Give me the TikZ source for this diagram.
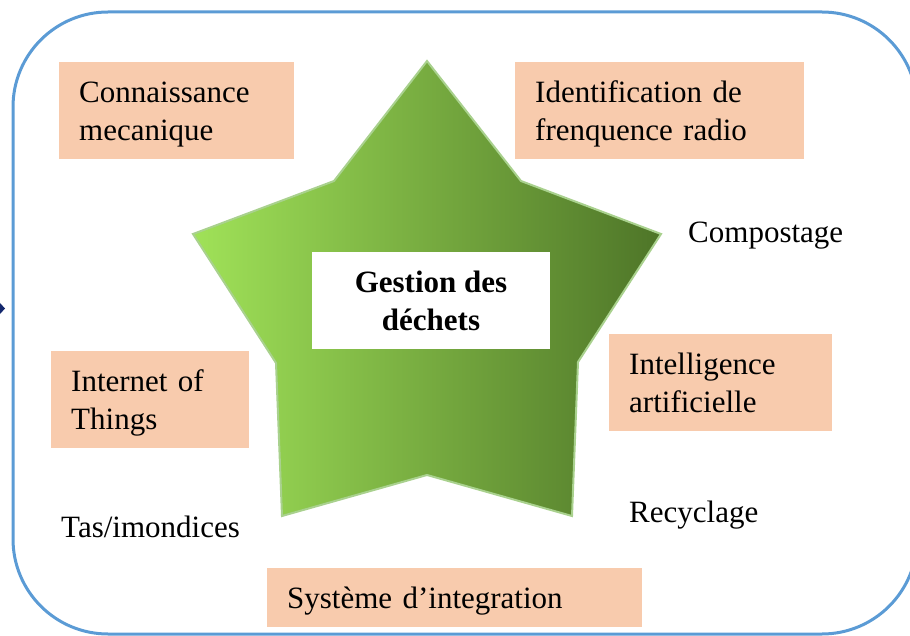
\documentclass[tikz,border=0pt]{standalone}
\usepackage{fontspec}
\setmainfont{Liberation Serif}
\usepackage{tikz}
\usetikzlibrary{positioning}

\definecolor{peach}{HTML}{F8CBAD}
\definecolor{frame}{HTML}{5B9BD5}
\definecolor{starline}{HTML}{A9D18E}
\definecolor{lightgreen}{RGB}{160,226,88}
\definecolor{darkgreen}{RGB}{78,117,40}
\definecolor{navy}{RGB}{20,40,110}

\begin{document}
\begin{tikzpicture}[x=1pt,y=-1pt,
                txt/.style={font=\fontsize{31}{38}\selectfont,inner sep=0pt},
                box/.style={txt,fill=peach,anchor=north west,align=left,inner xsep=20pt,
                    execute at begin node={\rule{0pt}{29pt}},
                    execute at end node={\rule[-7pt]{0pt}{7pt}}},
                main node/.style={fill=white,font=\fontsize{31}{38}\selectfont\bfseries,align=center,
                    minimum width=238pt,minimum height=97pt}]

        \useasboundingbox (0,0) rectangle (910,636);
        \clip (0,0) rectangle (910,636);

        \draw[frame,line width=3pt,rounded corners=95pt] (13,12) rectangle (917,634);
        \fill[navy] (0,303) -- (5,308.5) -- (0,314) -- cycle;

        \draw[starline,line width=2pt,left color=lightgreen,right color=darkgreen]
            (427,61) -- (521,181) -- (661,234) -- (578,362) -- (572,516) -- (427,475)
            -- (282,516) -- (276,363) -- (193,234) -- (334,181) -- cycle;

        \node[main node] (0) at (431,300.5) {Gestion des\\d\'echets};

        \node[box,text width=195pt,minimum height=97pt] (1) at (59,62) {Connaissance\\mecanique};
        \node[box,text width=249pt,minimum height=97pt] (2) at (515,62) {Identification de\\frenquence radio};
        \node[box,text width=158pt,minimum height=97pt] (3) at (51,351) {Internet of\\Things};
        \node[box,text width=183pt,minimum height=97pt] (4) at (609,334) {Intelligence\\artificielle};
        \node[box,text width=335pt,minimum height=59pt] (5) at (267,568) {Syst\`eme d’integration};

        \node[txt,anchor=base west] (6) at (688,243) {Compostage};
        \node[txt,anchor=base west] (7) at (629,522) {Recyclage};
        \node[txt,anchor=base west] (8) at (61,537) {Tas/imondices};

\end{tikzpicture}
\end{document}
